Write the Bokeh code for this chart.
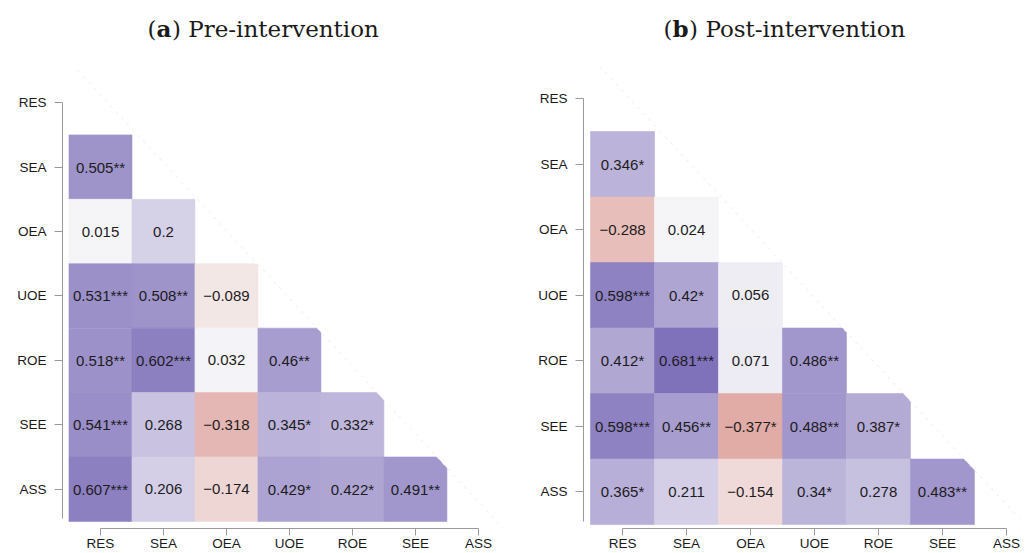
from bokeh.plotting import figure
from bokeh.layouts import row
from bokeh.models import ColumnDataSource, LinearColorMapper, FixedTicker, Label, Range1d
from bokeh.core.properties import value
from bokeh.embed import file_html
from bokeh.resources import INLINE

# ---------------- data ----------------
labels = ["RES", "SEA", "OEA", "UOE", "ROE", "SEE", "ASS"]

pre_values = [
    [0.505],
    [0.015, 0.2],
    [0.531, 0.508, -0.089],
    [0.518, 0.602, 0.032, 0.46],
    [0.541, 0.268, -0.318, 0.345, 0.332],
    [0.607, 0.206, -0.174, 0.429, 0.422, 0.491],
]
pre_stars = [
    ["**"],
    ["", ""],
    ["***", "**", ""],
    ["**", "***", "", "**"],
    ["***", "", "", "*", "*"],
    ["***", "", "", "*", "*", "**"],
]

post_values = [
    [0.346],
    [-0.288, 0.024],
    [0.598, 0.42, 0.056],
    [0.412, 0.681, 0.071, 0.486],
    [0.598, 0.456, -0.377, 0.488, 0.387],
    [0.365, 0.211, -0.154, 0.34, 0.278, 0.483],
]
post_stars = [
    ["*"],
    ["", ""],
    ["***", "*", ""],
    ["*", "***", "", "**"],
    ["***", "**", "*", "**", "*"],
    ["*", "", "", "*", "", "**"],
]

titles = [("a", ") Pre-intervention"), ("b", ") Post-intervention")]

# ---------------- colour scale ----------------
NEG = (186, 44, 30)
MID = (249, 249, 250)
POS = (71, 50, 156)


def _mix(a, b, t):
    return "#%02x%02x%02x" % tuple(int(round(a[i] + (b[i] - a[i]) * t)) for i in range(3))


palette = []
for i in range(201):
    v = -1 + 2 * i / 200
    palette.append(_mix(MID, NEG, -v) if v < 0 else _mix(MID, POS, v))
mapper = LinearColorMapper(palette=palette, low=-1, high=1)

FONT = "Liberation Sans"
n = len(labels)


def build_source(values, stars):
    xs, ys, vs, txt = [], [], [], []
    for r, (vals, sts) in enumerate(zip(values, stars), start=1):
        for c, (v, s) in enumerate(zip(vals, sts)):
            xs.append(c)
            ys.append(r)
            vs.append(v)
            txt.append(format(v, "g").replace("-", "\u2212") + s)
    return ColumnDataSource(dict(x=xs, y=ys, v=vs, label=txt))


def panel(values, stars, title, width, b_left, b_right, x_rng, y_rng, title_x, title_y, bold_w):
    p = figure(width=width, height=553, output_backend="svg", toolbar_location=None,
               x_range=Range1d(*x_rng), y_range=Range1d(*y_rng), title=None,
               min_border_left=b_left, min_border_right=b_right, min_border_top=0,
               min_border_bottom=0)
    p.outline_line_color = None
    p.xgrid.visible = False
    p.ygrid.visible = False
    p.background_fill_color = "white"
    p.border_fill_color = "white"

    src = build_source(values, stars)
    p.rect(x="x", y="y", width=1, height=1, source=src,
           fill_color={"field": "v", "transform": mapper},
           line_color={"field": "v", "transform": mapper}, line_width=0.6)

    # soft diagonal cut along the triangle edge
    ky = [-0.5, n + 1.0]
    kx = [yy - 0.05 * (yy - 2.3) for yy in ky]
    p.patch(x=kx + [n + 10, n + 10], y=ky + [ky[-1], ky[0]], fill_color="white", line_color=None)
    p.line(x=kx, y=ky, line_color="#ededed", line_width=1, line_dash="3 5")

    p.text(x="x", y="y", text="label", source=src, text_align="center", text_baseline="middle",
           text_font=value(FONT), text_font_size="15px", text_color="#1c1c1c")

    ticks = list(range(n))
    overrides = {i: lab for i, lab in enumerate(labels)}
    for ax, tick_out, stand, bounds in ((p.xaxis[0], 7, 0, (0, n - 1)), (p.yaxis[0], 8, 8, (0, n - 0.55))):
        ax.ticker = FixedTicker(ticks=ticks)
        ax.major_label_overrides = overrides
        ax.bounds = bounds
        ax.axis_line_color = "#9a9a9a"
        ax.major_tick_line_color = "#9a9a9a"
        ax.minor_tick_line_color = None
        ax.major_tick_in = 0
        ax.major_tick_out = tick_out
        ax.major_label_standoff = stand
        ax.major_label_text_font = FONT
        ax.major_label_text_font_size = "13.5px"
        ax.major_label_text_color = "#1a1a1a"

    bold, rest = title
    common = dict(text_font="DejaVu Serif", text_font_size="23px", text_color="#1a1a1a",
                  text_baseline="alphabetic")
    p.add_layout(Label(x=title_x, y=title_y, text="(", text_align="right", **common))
    p.add_layout(Label(x=title_x, y=title_y, text=bold, text_align="left", text_font_style="bold", **common))
    p.add_layout(Label(x=title_x, y=title_y, x_offset=bold_w, text=rest, text_align="left", **common))
    return p


p1 = panel(pre_values, pre_stars, titles[0], 520, 62, 15,
           (-0.603, 6.43), (6.61, -1.586), 0.889, -1.15, 15.5)
p2 = panel(post_values, post_stars, titles[1], 515, 63, 15,
           (-0.61, 6.22), (6.56, -1.5), 0.781, -1.07, 16.6)

layout = row(p1, p2)
open("out.html", "w").write(file_html(layout, INLINE))
